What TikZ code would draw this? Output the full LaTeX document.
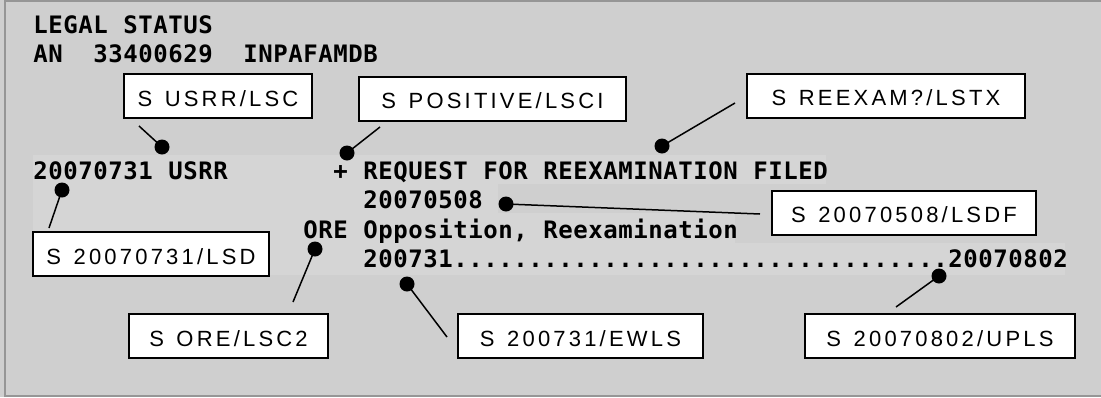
\documentclass[tikz,border=0pt]{standalone}
\usepackage{fontspec}
\newfontfamily\termfont{DejaVu Sans Mono}
\newfontfamily\tagfont{Liberation Sans}
\definecolor{panel}{RGB}{207,207,207}
\definecolor{band}{RGB}{213,213,213}
\definecolor{rim}{RGB}{150,150,150}
% fixed 15pt character cells for the record listing (write spaces as ~)
\newcommand\monocols[1]{\monocolsloop#1\relax}
\def\monocolsloop#1{\ifx\relax#1\else\makebox[15pt][c]{#1}\expandafter\monocolsloop\fi}
% widely tracked text for the field tags (write spaces as ~)
\newcommand\tagspaced[1]{\tagspacedloop#1\relax}
\def\tagspacedloop#1{\ifx\relax#1\kern-3.2pt\else#1\kern3.2pt\expandafter\tagspacedloop\fi}
\tikzset{
  term/.style={font=\termfont\bfseries\fontsize{24}{28}\selectfont,
    anchor=base west, inner sep=0pt},
  tag/.style={draw, line width=2pt, fill=white,
    font=\tagfont\fontsize{22}{26}\selectfont,
    inner sep=0pt, text height=20pt, text depth=0pt, minimum height=44pt},
  blob/.style={circle, fill=black, minimum size=15pt, inner sep=0pt},
  leader/.style={line width=1.5pt},
}
\begin{document}
\begin{tikzpicture}[x=1pt, y=-1pt]
  % canvas
  \useasboundingbox (0,0) rectangle (1101,397);
  \fill[panel] (0,0) rectangle (1101,397);
  \draw[rim, line width=2pt] (1101,1) -- (5,1) -- (5,396) -- (1101,396);

  % highlighted record block
  \fill[band] (33,155) rectangle (826,184);
  \fill[band] (33,184) rectangle (498,213);
  \fill[band] (33,213) rectangle (735,243);
  \fill[band] (33,243) rectangle (1065,275);

  % record listing, one 15pt column per character from x=33
  \node[term] (h1) at (33,33) {\monocols{LEGAL~STATUS}};
  \node[term] (h2) at (33,62) {\monocols{AN~~33400629~~INPAFAMDB}};
  \node[term] (r1) at (33,179) {\monocols{20070731~USRR~~~~~~~+~REQUEST~FOR~REEXAMINATION~FILED}};
  \node[term] (r2) at (363,208) {\monocols{20070508}};
  \node[term] (r3) at (303,238) {\monocols{ORE~Opposition,~Reexamination}};
  \node[term] (r4) at (363,267) {\monocols{200731.................................20070802}};

  % field tags
  \node[tag, minimum width=188pt] (t1) at (218,96) {\tagspaced{S~USRR/LSC}};
  \node[tag, minimum width=267pt] (t2) at (492.5,98.5) {\tagspaced{S~POSITIVE/LSCI}};
  \node[tag, minimum width=278pt] (t3) at (886,95.5) {\tagspaced{S~REEXAM?/LSTX}};
  \node[tag, minimum width=264pt] (t4) at (904,212.5) {\tagspaced{S~20070508/LSDF}};
  \node[tag, minimum width=236pt] (t5) at (151,254) {\tagspaced{S~20070731/LSD}};
  \node[tag, minimum width=199pt] (t6) at (228.5,336) {\tagspaced{S~ORE/LSC2}};
  \node[tag, minimum width=245pt] (t7) at (580.5,336) {\tagspaced{S~200731/EWLS}};
  \node[tag, minimum width=270pt] (t8) at (940,336) {\tagspaced{S~20070802/UPLS}};

  % markers on the record
  \node[blob] (d1) at (162,147) {};
  \node[blob] (d2) at (347,153) {};
  \node[blob] (d3) at (662,146) {};
  \node[blob] (d4) at (506,204) {};
  \node[blob] (d5) at (62,190) {};
  \node[blob] (d6) at (315,249) {};
  \node[blob] (d7) at (407,284) {};
  \node[blob] (d8) at (939,276) {};

  % leader ends, just short of each tag
  \coordinate (e1) at (139,126);
  \coordinate (e2) at (380,127);
  \coordinate (e3) at (735,103);
  \coordinate (e4) at (760,214);
  \coordinate (e5) at (49,228);
  \coordinate (e6) at (293,302);
  \coordinate (e7) at (447,337);
  \coordinate (e8) at (896,307);

  \foreach \i in {1,...,8} \draw[leader] (d\i.center) -- (e\i);
\end{tikzpicture}
\end{document}
